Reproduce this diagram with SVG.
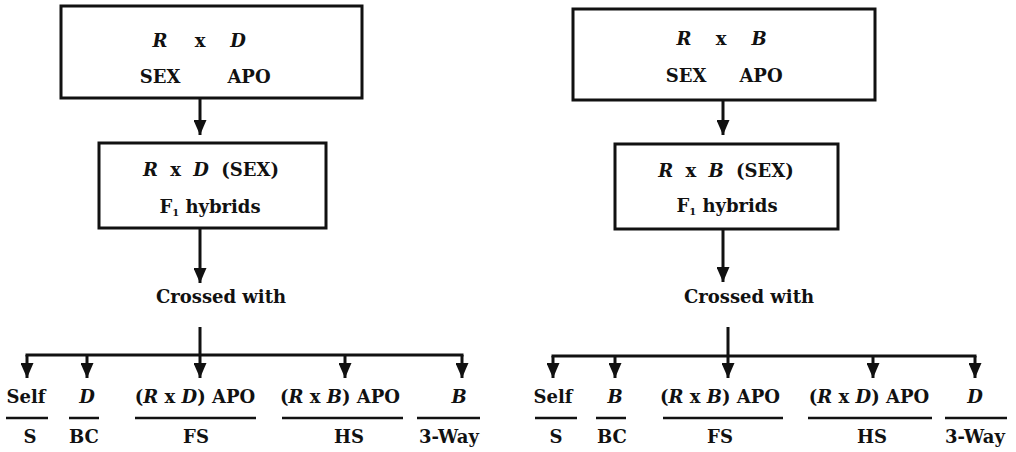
<svg xmlns="http://www.w3.org/2000/svg" width="1016" height="452" viewBox="0 0 1016 452">
  <style>
    text { font-family: "DejaVu Serif", "Liberation Serif", serif; font-weight: bold; font-size: 18px; fill: #111; text-anchor: middle; }
    .it { font-style: italic; }
    .sub { font-size: 10px; }
    .wide { word-spacing: 6px; }
    .box { fill: #fff; stroke: #111; stroke-width: 3; }
    .ln { fill: none; stroke: #111; stroke-width: 3; }
    .ul { fill: none; stroke: #111; stroke-width: 2.5; }
  </style>
  <defs>
    <marker id="ah" viewBox="0 0 15 13" refX="15" refY="6.5" markerWidth="15" markerHeight="13" markerUnits="userSpaceOnUse" orient="auto">
      <path d="M0,0 L15,6.5 L0,13 Z" fill="#111"/>
    </marker>
  </defs>
  <rect width="1016" height="452" fill="#fff"/>

  <!-- Left scheme: R x D -->
  <g id="left-parents">
    <rect class="box" x="61" y="6" width="301" height="92"/>
    <text x="160" y="47" class="it">R</text>
    <text x="200" y="47">x</text>
    <text x="238" y="47" class="it">D</text>
    <text x="160" y="83">SEX</text>
    <text x="249" y="83">APO</text>
  </g>
  <g id="left-f1">
    <rect class="box" x="99" y="143" width="227" height="85"/>
    <text x="211" y="176" class="wide"><tspan class="it">R</tspan> x <tspan class="it">D</tspan> (SEX)</text>
    <text x="210" y="213">F<tspan class="sub" dy="3">1</tspan><tspan dy="-3"> hybrids</tspan></text>
  </g>
  <g id="left-crossed">
    <text x="221" y="303">Crossed with</text>
  </g>
  <g id="left-offspring">
    <text x="26" y="403">Self</text>
    <text x="87" y="403" class="it">D</text>
    <text x="195" y="403">(<tspan class="it">R</tspan> x <tspan class="it">D</tspan>) APO</text>
    <text x="340" y="403">(<tspan class="it">R</tspan> x <tspan class="it">B</tspan>) APO</text>
    <text x="459" y="403" class="it">B</text>
    <path class="ul" d="M6,418 H48 M69,418 H99 M135,418 H256 M282,418 H403 M417,418 H480"/>
    <text x="30" y="443">S</text>
    <text x="84" y="443">BC</text>
    <text x="196" y="443">FS</text>
    <text x="349" y="443">HS</text>
    <text x="449" y="443">3-Way</text>
  </g>

  <!-- Right scheme: R x B -->
  <g id="right-parents">
    <rect class="box" x="573" y="9" width="302" height="91"/>
    <text x="684" y="45" class="it">R</text>
    <text x="721" y="45">x</text>
    <text x="759" y="45" class="it">B</text>
    <text x="686" y="82">SEX</text>
    <text x="761" y="82">APO</text>
  </g>
  <g id="right-f1">
    <rect class="box" x="615" y="144" width="223" height="85"/>
    <text x="726" y="177" class="wide"><tspan class="it">R</tspan> x <tspan class="it">B</tspan> (SEX)</text>
    <text x="727" y="212">F<tspan class="sub" dy="3">1</tspan><tspan dy="-3"> hybrids</tspan></text>
  </g>
  <g id="right-crossed">
    <text x="749" y="303">Crossed with</text>
  </g>
  <g id="right-offspring">
    <text x="553" y="403">Self</text>
    <text x="615" y="403" class="it">B</text>
    <text x="720" y="403">(<tspan class="it">R</tspan> x <tspan class="it">B</tspan>) APO</text>
    <text x="869" y="403">(<tspan class="it">R</tspan> x <tspan class="it">D</tspan>) APO</text>
    <text x="975" y="403" class="it">D</text>
    <path class="ul" d="M535,418 H577 M596,418 H626 M663,418 H783 M808,418 H932 M945,418 H1007"/>
    <text x="556" y="443">S</text>
    <text x="612" y="443">BC</text>
    <text x="720" y="443">FS</text>
    <text x="872" y="443">HS</text>
    <text x="975" y="443">3-Way</text>
  </g>

  <g id="connectors">
    <!-- left -->
    <line class="ln" x1="200" y1="98" x2="200" y2="135" marker-end="url(#ah)"/>
    <line class="ln" x1="200" y1="228" x2="200" y2="283" marker-end="url(#ah)"/>
    <path class="ln" d="M200,327 V355 M25.5,355 H463.5"/>
    <line class="ln" x1="27" y1="355" x2="27" y2="378" marker-end="url(#ah)"/>
    <line class="ln" x1="87" y1="355" x2="87" y2="378" marker-end="url(#ah)"/>
    <line class="ln" x1="200" y1="355" x2="200" y2="378" marker-end="url(#ah)"/>
    <line class="ln" x1="345" y1="355" x2="345" y2="378" marker-end="url(#ah)"/>
    <line class="ln" x1="462" y1="355" x2="462" y2="378" marker-end="url(#ah)"/>
    <!-- right -->
    <line class="ln" x1="723" y1="100" x2="723" y2="135" marker-end="url(#ah)"/>
    <line class="ln" x1="723" y1="229" x2="723" y2="282" marker-end="url(#ah)"/>
    <path class="ln" d="M728,327 V356 M551.5,356 H976.5"/>
    <line class="ln" x1="553" y1="356" x2="553" y2="378" marker-end="url(#ah)"/>
    <line class="ln" x1="615" y1="356" x2="615" y2="378" marker-end="url(#ah)"/>
    <line class="ln" x1="728" y1="356" x2="728" y2="378" marker-end="url(#ah)"/>
    <line class="ln" x1="873" y1="356" x2="873" y2="378" marker-end="url(#ah)"/>
    <line class="ln" x1="975" y1="356" x2="975" y2="378" marker-end="url(#ah)"/>
  </g>
</svg>
